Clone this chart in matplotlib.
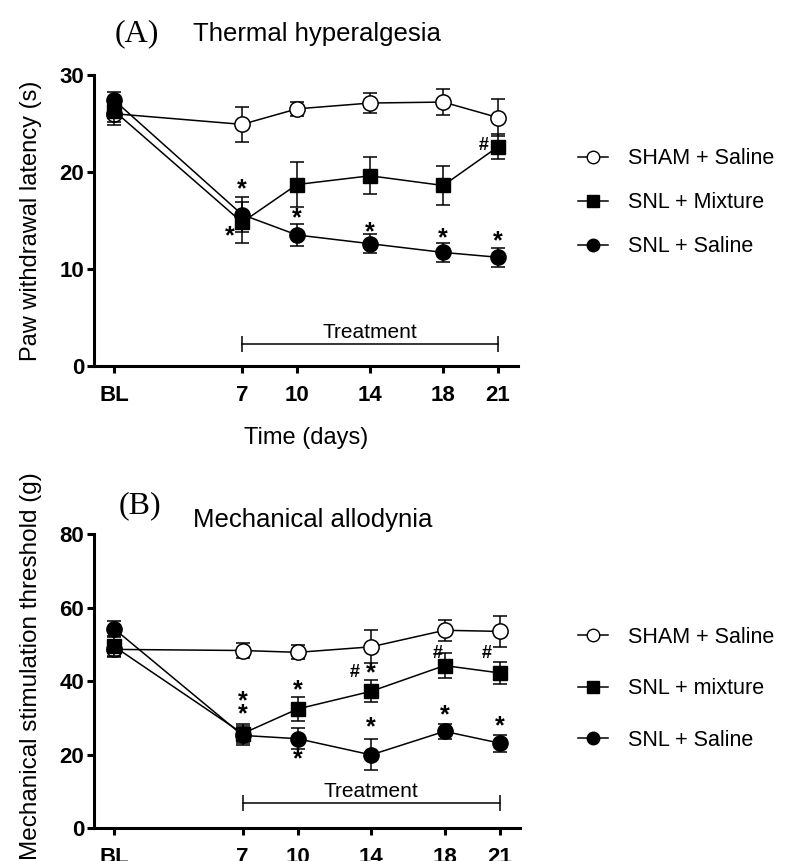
import matplotlib.pyplot as plt
from matplotlib.lines import Line2D

plt.rcParams['font.family'] = ['Liberation Sans', 'DejaVu Sans']

days = [0, 7, 10, 14, 18, 21]
day_labels = ['BL', '7', '10', '14', '18', '21']

# (A) thermal hyperalgesia, paw withdrawal latency (s)
a_sham = [26.0, 24.9, 26.5, 27.1, 27.2, 25.6]
a_sham_err = [1.2, 1.8, 0.7, 1.0, 1.3, 1.9]
a_mix = [26.3, 14.8, 18.7, 19.6, 18.6, 22.6]
a_mix_err = [1.2, 2.1, 2.3, 1.9, 2.0, 1.3]
a_sal = [27.4, 15.6, 13.5, 12.6, 11.7, 11.2]
a_sal_err = [0.8, 1.8, 1.1, 1.0, 1.0, 1.0]

# (B) mechanical allodynia, stimulation threshold (g)
b_sham = [48.6, 48.3, 47.8, 49.3, 53.8, 53.5]
b_sham_err = [2.0, 2.0, 1.9, 4.5, 2.9, 4.3]
b_mix = [49.4, 25.7, 32.4, 37.2, 44.2, 42.2]
b_mix_err = [2.5, 2.5, 3.3, 3.0, 3.4, 3.0]
b_sal = [54.2, 25.2, 24.3, 19.9, 26.3, 23.1]
b_sal_err = [2.0, 2.6, 2.8, 4.2, 2.1, 2.3]

# significance marks (day, value, symbol)
a_marks = [(7, 18.2, '*'), (6.3, 13.4, '*'), (10, 15.2, '*'), (14, 13.8, '*'),
           (18, 13.2, '*'), (21, 12.8, '*'), (20.2, 22.7, '#')]
b_marks = [(7, 34.4, '*'), (7, 30.9, '*'), (10, 37.6, '*'), (10, 18.8, '*'),
           (14, 42.2, '*'), (13.1, 42.4, '#'), (14, 27.3, '*'), (18, 30.6, '*'),
           (17.6, 47.5, '#'), (21, 27.8, '*'), (20.3, 47.5, '#')]

treat_start, treat_end = 7, 21
a_treat_y, b_treat_y = 2.3, 6.8

fig = plt.figure(figsize=(7.93, 8.61), dpi=100)
ax1 = fig.add_axes([0.1185, 0.575, 0.535, 0.338])
ax2 = fig.add_axes([0.1185, 0.0383, 0.537, 0.3415])


def draw(ax, sham, sham_err, mix, mix_err, sal, sal_err, ymax, ystep):
    kw = dict(color='black', lw=1.1, elinewidth=1.1, capsize=5, capthick=1.1,
              clip_on=False)
    ax.errorbar(days, sham, yerr=sham_err, fmt='-o', ms=11, mfc='white',
                mec='black', mew=1.1, zorder=3, **kw)
    ax.errorbar(days, mix, yerr=mix_err, fmt='-s', ms=10, mfc='black',
                mec='black', zorder=4, **kw)
    ax.errorbar(days, sal, yerr=sal_err, fmt='-o', ms=11, mfc='black',
                mec='black', zorder=5, **kw)
    ax.set_xlim(-1.1, 22.1)
    ax.set_ylim(0, ymax)
    ax.set_xticks(days)
    ax.set_xticklabels(day_labels)
    ax.set_yticks(range(0, ymax + 1, ystep))
    for s in ['top', 'right']:
        ax.spines[s].set_visible(False)
    for s in ['left', 'bottom']:
        ax.spines[s].set_linewidth(2.2)
    ax.tick_params(axis='both', width=2.2, length=5, labelsize=16)
    ax.tick_params(axis='x', pad=9)
    ax.tick_params(axis='y', pad=2)
    for lab in ax.get_xticklabels() + ax.get_yticklabels():
        lab.set_fontweight('bold')


draw(ax1, a_sham, a_sham_err, a_mix, a_mix_err, a_sal, a_sal_err, 30, 10)
draw(ax2, b_sham, b_sham_err, b_mix, b_mix_err, b_sal, b_sal_err, 80, 20)

for ax, marks in [(ax1, a_marks), (ax2, b_marks)]:
    for x, y, t in marks:
        ax.text(x, y, t, ha='center', va='center', fontsize=18 if t == '*' else 13,
                fontweight='bold')

for ax, ty in [(ax1, a_treat_y), (ax2, b_treat_y)]:
    ax.plot([treat_start, treat_end], [ty, ty], color='black', lw=1.1)
    ax.plot([treat_start, treat_end], [ty, ty], ls='none', marker='|',
            ms=11, mew=1.1, color='black')
    ax.annotate('Treatment', ((treat_start + treat_end) / 2, ty),
                xytext=(0, 1.5), textcoords='offset points',
                ha='center', va='bottom', fontsize=15)

ax1.set_ylabel('Paw withdrawal latency (s)', fontsize=17)
ax1.yaxis.set_label_coords(-0.122, 0.5)
ax1.set_xlabel('Time (days)', fontsize=17, labelpad=15)
ax2.set_ylabel('Mechanical stimulation threshold (g)', fontsize=17.5)
ax2.yaxis.set_label_coords(-0.122, 0.551)

fig.text(0.145, 0.961, '(A)', family='Liberation Serif', fontsize=23,
         va='center')
fig.text(0.243, 0.961, 'Thermal hyperalgesia', fontsize=18.5, va='center')
fig.text(0.149, 0.413, '(B)', family='Liberation Serif', fontsize=23,
         va='center')
fig.text(0.243, 0.396, 'Mechanical allodynia', fontsize=18.5, va='center')

labels_a = ['SHAM + Saline', 'SNL + Mixture', 'SNL + Saline']
labels_b = ['SHAM + Saline', 'SNL + mixture', 'SNL + Saline']
handles = [
    Line2D([], [], color='black', lw=1.1, marker='o', ms=9, mfc='white', mec='black'),
    Line2D([], [], color='black', lw=1.1, marker='s', ms=8, mfc='black'),
    Line2D([], [], color='black', lw=1.1, marker='o', ms=9, mfc='black'),
]
fig.legend(handles, labels_a, loc='upper left', bbox_to_anchor=(0.729, 0.828),
           frameon=False, fontsize=15.5, handlelength=1.4, handletextpad=0.9,
           labelspacing=1.07, borderpad=0, borderaxespad=0)
fig.legend(handles, labels_b, loc='upper left', bbox_to_anchor=(0.729, 0.272),
           frameon=False, fontsize=15.5, handlelength=1.4, handletextpad=0.9,
           labelspacing=1.42, borderpad=0, borderaxespad=0)

fig.savefig('out.png', dpi=100)
